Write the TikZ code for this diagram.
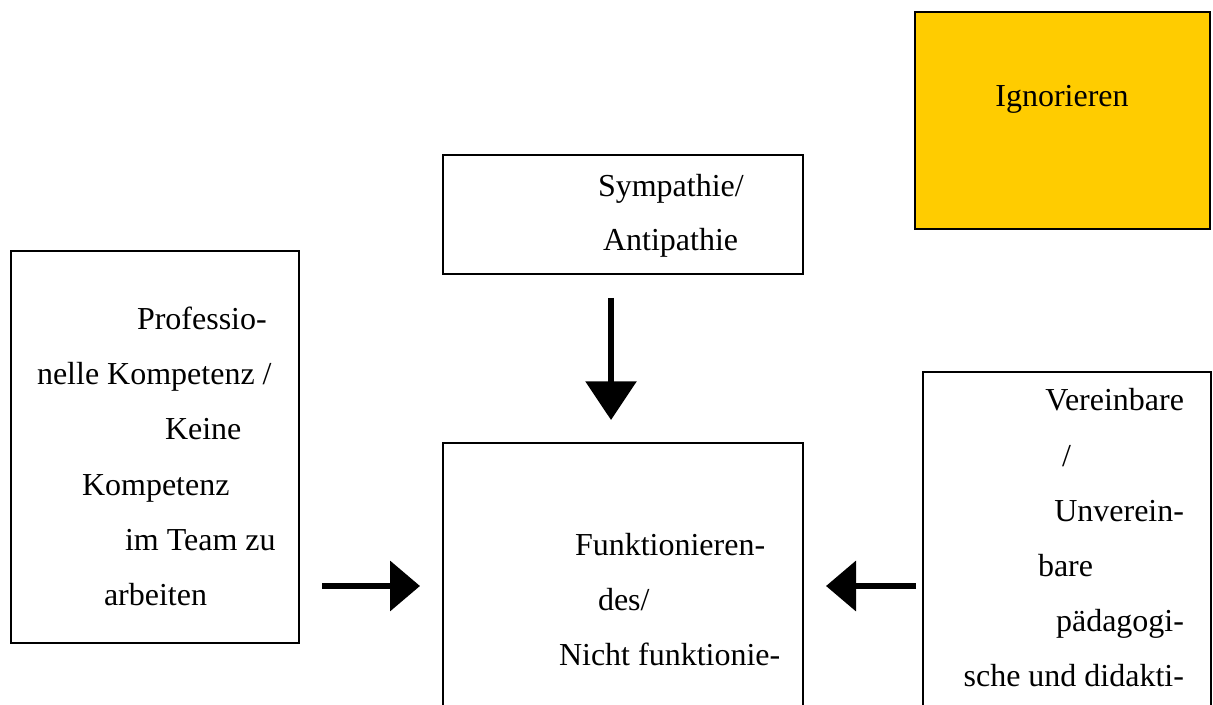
\documentclass[tikz,border=0pt]{standalone}
\usepackage{fontspec}
\setmainfont{Liberation Serif}
\usetikzlibrary{arrows.meta}
\definecolor{signal}{HTML}{FFCC00}
\begin{document}
\begin{tikzpicture}[x=0.75pt,y=-0.75pt,
  box/.style={draw, line width=1.5pt, inner sep=0pt, outer sep=0pt, anchor=north west},
  txt/.style={inner sep=0pt, outer sep=0pt, font=\fontsize{24}{29}\selectfont},
  lft/.style={txt, anchor=base west},
  rgt/.style={txt, anchor=base east},
  arr/.style={line width=4.5pt, -{Triangle[length=22.5pt,width=37pt]}},
  darr/.style={line width=4.5pt, -{Triangle[length=29pt,width=37.5pt]}}]
\useasboundingbox (0,0) rectangle (1213,705);

% boxes
\node[box, minimum width=216pt, minimum height=294pt] (lbox) at (11,251) {};
\node[box, minimum width=270pt, minimum height=89.25pt] (sym) at (443,155) {};
\node[box, minimum width=270pt, minimum height=300pt] (fun) at (443,443) {};
\node[box, minimum width=216pt, minimum height=300pt] (rbox) at (923,372) {};
\node[box, fill=signal, line width=2pt, minimum width=221.25pt, minimum height=162.75pt] (ign) at (915,12) {};

% left box text
\node[lft] (l1) at (137,330) {Professio-};
\node[lft] (l2) at (37,385) {nelle Kompetenz /};
\node[lft] (l3) at (165,440) {Keine};
\node[lft] (l4) at (82,495) {Kompetenz};
\node[lft] (l5) at (125,550) {im Team zu};
\node[lft] (l6) at (104,605) {arbeiten};

% top box text
\node[lft] (s1) at (598,197) {Sympathie/};
\node[lft] (s2) at (603,251) {Antipathie};

% centre box text
\node[lft] (f1) at (575,555) {Funktionieren-};
\node[lft] (f2) at (598,610) {des/};
\node[lft] (f3) at (559,665) {Nicht funktionie-};

% right box text
\node[rgt] (r1) at (1184,411) {Vereinbare};
\node[lft] (r2) at (1062,466) {/};
\node[rgt] (r3) at (1184,521) {Unverein-};
\node[lft] (r4) at (1038,576) {bare};
\node[rgt] (r5) at (1184,631) {pädagogi-};
\node[rgt] (r6) at (1184,686) {sche und didakti-};

% yellow box text
\node[txt, anchor=base] (i1) at (1062,107) {Ignorieren};

% arrows
\coordinate (arrowrow) at (0,586);
\draw[darr, shorten <=18pt, shorten >=17.25pt] ([xshift=-9pt]sym.south) -- ([xshift=-9pt]fun.north);
\draw[arr, shorten <=17.25pt, shorten >=17.25pt] (lbox.east |- arrowrow) -- (fun.west |- arrowrow);
\draw[arr, shorten <=5.25pt, shorten >=17.25pt] (rbox.west |- arrowrow) -- (fun.east |- arrowrow);
\end{tikzpicture}
\end{document}
